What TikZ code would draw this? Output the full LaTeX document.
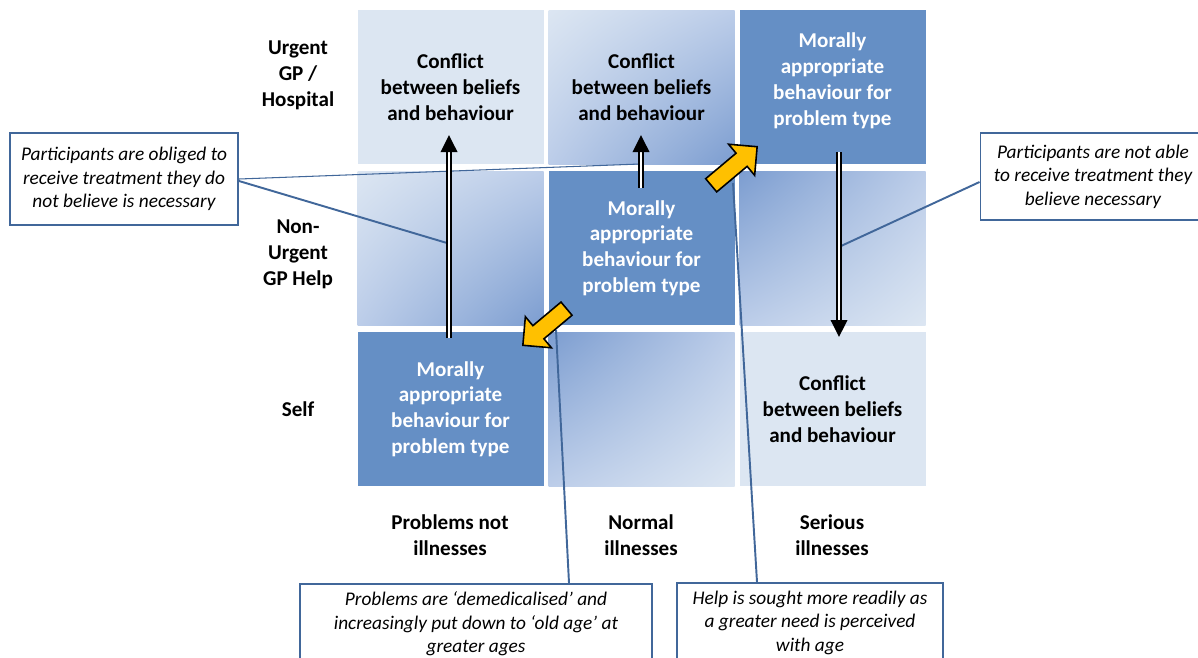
\documentclass[tikz,border=0pt]{standalone}
\usepackage{fontspec}
\setmainfont{Carlito}
\usepackage{xcolor}
\usepackage{tikz}
\usetikzlibrary{arrows.meta, shapes.arrows, shadings, positioning}
\definecolor{cellpale}{RGB}{220, 230, 242}
\definecolor{cellmid}{RGB}{188, 205, 233}
\definecolor{celldeep}{RGB}{124, 157, 208}
\definecolor{cellsolid}{RGB}{101, 143, 197}
\definecolor{noteblue}{RGB}{65, 103, 154}
\definecolor{amber}{RGB}{255, 192, 0}
\newcommand{\cellfont}{\fontsize{12}{14.7}\selectfont\bfseries}
\newcommand{\notefont}{\fontsize{11}{13.4}\selectfont\itshape}
\tikzstyle{cell} = [rectangle, minimum width=3.72cm, minimum height=3.08cm, inner sep=0pt, align=center, font=\cellfont]
\tikzstyle{conflict} = [cell, fill=cellpale, text=black]
\tikzstyle{moral} = [cell, fill=cellsolid, text=white]
\tikzstyle{fadedown} = [cell, shade, upper left=cellpale, upper right=cellmid, lower left=cellmid, lower right=celldeep]
\tikzstyle{fadeup} = [cell, shade, upper left=celldeep, upper right=cellmid, lower left=cellmid, lower right=cellpale]
\tikzstyle{axislabel} = [align=center, font=\cellfont]
\tikzstyle{note} = [rectangle, draw=noteblue, line width=1.1pt, fill=white, align=center, font=\notefont]
\tikzstyle{leader} = [draw=noteblue, line width=1.1pt]
\tikzstyle{dbl} = [double, line width=1.1pt, double distance=1.3pt, -{Triangle[length=0.34cm, width=0.33cm]}]
\tikzstyle{drift} = [single arrow, fill=amber, draw=black, line width=0.9pt, minimum height=1.2cm, minimum width=0.78cm, single arrow head extend=0.234cm, inner xsep=0pt, inner ysep=0.156cm]

\begin{document}
\begin{tikzpicture}[x=0.2mm, y=-0.2mm]
    \useasboundingbox (0,0) rectangle (1198,657);
    \clip (0,0) rectangle (1198,657);

    % Grid cells
    \node[conflict] (c11) at (450.5, 87) {Conflict\\between beliefs\\and behaviour};
    \node[fadedown] (c12) at (641.5, 87) {Conflict\\between beliefs\\and behaviour};
    \node[moral, text depth=0.32cm] (c13) at (832.5, 87) {Morally\\appropriate\\behaviour for\\problem type};
    \node[fadedown] (c21) at (450.5, 248) {};
    \node[moral] (c22) at (641.5, 248) {Morally\\appropriate\\behaviour for\\problem type};
    \node[fadeup] (c23) at (832.5, 248) {};
    \node[moral] (c31) at (450.5, 409) {Morally\\appropriate\\behaviour for\\problem type};
    \node[fadeup] (c32) at (641.5, 409) {};
    \node[conflict] (c33) at (832.5, 409) {Conflict\\between beliefs\\and behaviour};

    % Row labels
    \node[axislabel] (rowurgent) at (298, 75) {Urgent\\GP /\\Hospital};
    \node[axislabel] (rownonurgent) at (298, 254) {Non-\\Urgent\\GP Help};
    \node[axislabel] (rowself) at (298, 409) {Self};

    % Column labels
    \node[axislabel] (colnot) at (450, 535) {Problems not\\illnesses};
    \node[axislabel] (colnormal) at (641, 535) {Normal\\illnesses};
    \node[axislabel] (colserious) at (832, 535) {Serious\\illnesses};

    % Callouts
    \node[note, minimum width=4.56cm, minimum height=1.84cm] (obliged) at (124, 179) {Participants are obliged to\\receive treatment they do\\not believe is necessary};
    \node[note, minimum width=4.5cm, minimum height=1.74cm] (notable) at (1093, 176.5) {Participants are not able\\to receive treatment they\\believe necessary};
    \node[note, anchor=north, minimum width=7.04cm, inner ysep=0.16cm] (demed) at (476, 583) {Problems are ‘demedicalised’ and\\increasingly put down to ‘old age’ at\\greater ages};
    \node[note, anchor=north, minimum width=5.32cm, inner ysep=0.16cm] (sought) at (810, 582) {Help is sought more readily as\\a greater need is perceived\\with age};

    % Arrow ends
    \coordinate (upleftfoot) at (449, 338);
    \coordinate (uplefthead) at (449, 135);
    \coordinate (upmidfoot) at (641, 188);
    \coordinate (upmidhead) at (641, 135);
    \coordinate (downtop) at (839, 152);
    \coordinate (downhead) at (839, 337);

    % Leader ends
    \coordinate (obligedA) at (640, 164);
    \coordinate (obligedB) at (447, 243);
    \coordinate (notableA) at (841, 246);
    \coordinate (demedA) at (556, 330);
    \coordinate (soughtA) at (733, 183);

    % Leaders
    \draw[leader, line width=0.6pt] (obliged.east) -- (obligedA);
    \draw[leader] ([yshift=-0.04cm]obliged.east) -- (obligedB);
    \draw[leader] ([yshift=-0.11cm]notable.west) -- (notableA);
    \draw[leader] ([xshift=1.86cm]demed.north) -- (demedA);
    \draw[leader] ([xshift=-1.06cm]sought.north) -- (soughtA);

    % Double arrows
    \draw[dbl] (upleftfoot) -- (uplefthead);
    \draw[dbl] (upmidfoot) -- (upmidhead);
    \draw[dbl] (downtop) -- (downhead);

    % Block arrows
    \node[drift, rotate=40, anchor=tip] (toserious) at (758, 146) {};
    \node[drift, rotate=220, anchor=tip, minimum height=1.14cm] (tonot) at (522, 346) {};
\end{tikzpicture}
\end{document}
